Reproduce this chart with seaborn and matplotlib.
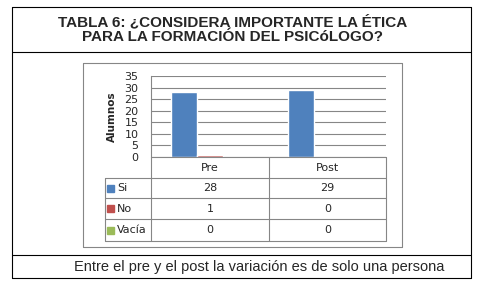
import pandas as pd
import seaborn as sns
import matplotlib.pyplot as plt
from matplotlib.lines import Line2D
from matplotlib.patches import Rectangle

# Data
categories = ["Pre", "Post"]
series = ["Si", "No", "Vacía"]
si_values = [28, 29]
no_values = [1, 0]
vacia_values = [0, 0]
yticks = [0, 5, 10, 15, 20, 25, 30, 35]
colors = ["#4F81BD", "#C0504D", "#9BBB59"]

title = "TABLA 6: ¿CONSIDERA IMPORTANTE LA ÉTICA\nPARA LA FORMACIÓN DEL PSICóLOGO?"
footer = "Entre el pre y el post la variación es de solo una persona"

values = {"Si": si_values, "No": no_values, "Vacía": vacia_values}
rows = []
for s in series:
    for c, v in zip(categories, values[s]):
        rows.append({"momento": c, "respuesta": s, "alumnos": v})
df = pd.DataFrame(rows)

sns.set_style("white")
plt.rcParams["font.family"] = ["DejaVu Sans"]

W, H = 485, 285
fig = plt.figure(figsize=(W / 100, H / 100), dpi=100)


def px(x, y):
    return x / W, 1 - y / H


def hline(y, x0, x1, color="black", lw=0.8):
    fig.add_artist(Line2D([x0 / W, x1 / W], [1 - y / H, 1 - y / H], color=color, lw=lw))


def vline(x, y0, y1, color="black", lw=0.8):
    fig.add_artist(Line2D([x / W, x / W], [1 - y0 / H, 1 - y1 / H], color=color, lw=lw))


# outer table
hline(7, 12, 471); hline(52, 12, 471); hline(255, 12, 471); hline(278, 12, 471)
vline(12, 7, 278); vline(471, 7, 278)

fig.text(*px(233, 29.5), title, ha="center", va="center", fontsize=11,
         fontweight="bold", family="Liberation Sans", linespacing=1.1)
fig.text(*px(259, 267), footer, ha="center", va="center", fontsize=10.5,
         family="Liberation Sans")

# chart frame
grey = "#868686"
hline(63, 83, 402, grey); hline(247, 83, 402, grey)
vline(83, 63, 247, grey); vline(402, 63, 247, grey)

# plot area
left, right, top, bottom = 151, 386, 76, 157
ax = fig.add_axes([left / W, 1 - bottom / H, (right - left) / W, (bottom - top) / H])
sns.barplot(data=df, x="momento", y="alumnos", hue="respuesta", order=categories,
            hue_order=series, palette=colors, saturation=1, width=0.66,
            legend=False, ax=ax, zorder=3)
ax.set_ylim(0, 35)
ax.set_yticks(yticks)
ax.set_yticklabels([str(t) for t in yticks], fontsize=8)
ax.set_xticks([])
ax.set_xlabel("")
ax.set_ylabel("Alumnos", fontsize=7.5, fontweight="bold", labelpad=5)
ax.tick_params(axis="y", length=0, pad=9)
ax.grid(axis="y", color=grey, lw=0.8, zorder=0)
for side in ["top", "right", "bottom"]:
    ax.spines[side].set_visible(False)
ax.spines["left"].set_color(grey)
ax.spines["left"].set_linewidth(0.8)

# data table under the chart
col_edges = [151, 269, 386]
row_edges = [157, 178, 198, 219, 241]
hline(157, 151, 386, grey)
for y in row_edges[1:]:
    hline(y, 105, 386, grey)
for x in col_edges:
    vline(x, 157, 241, grey)
vline(105, 178, 241, grey)

for i, c in enumerate(categories):
    cx = (col_edges[i] + col_edges[i + 1]) / 2
    fig.text(*px(cx, 168), c, ha="center", va="center", fontsize=8)

for r, s in enumerate(series):
    cy = (row_edges[r + 1] + row_edges[r + 2]) / 2
    fig.add_artist(Rectangle(px(107, cy + 3.5), 7 / W, 7 / H, color=colors[r],
                             transform=fig.transFigure))
    fig.text(*px(117, cy), s, ha="left", va="center", fontsize=8)
    for i, v in enumerate(values[s]):
        cx = (col_edges[i] + col_edges[i + 1]) / 2
        fig.text(*px(cx, cy), str(v), ha="center", va="center", fontsize=8)

fig.savefig("out.png", dpi=100)
